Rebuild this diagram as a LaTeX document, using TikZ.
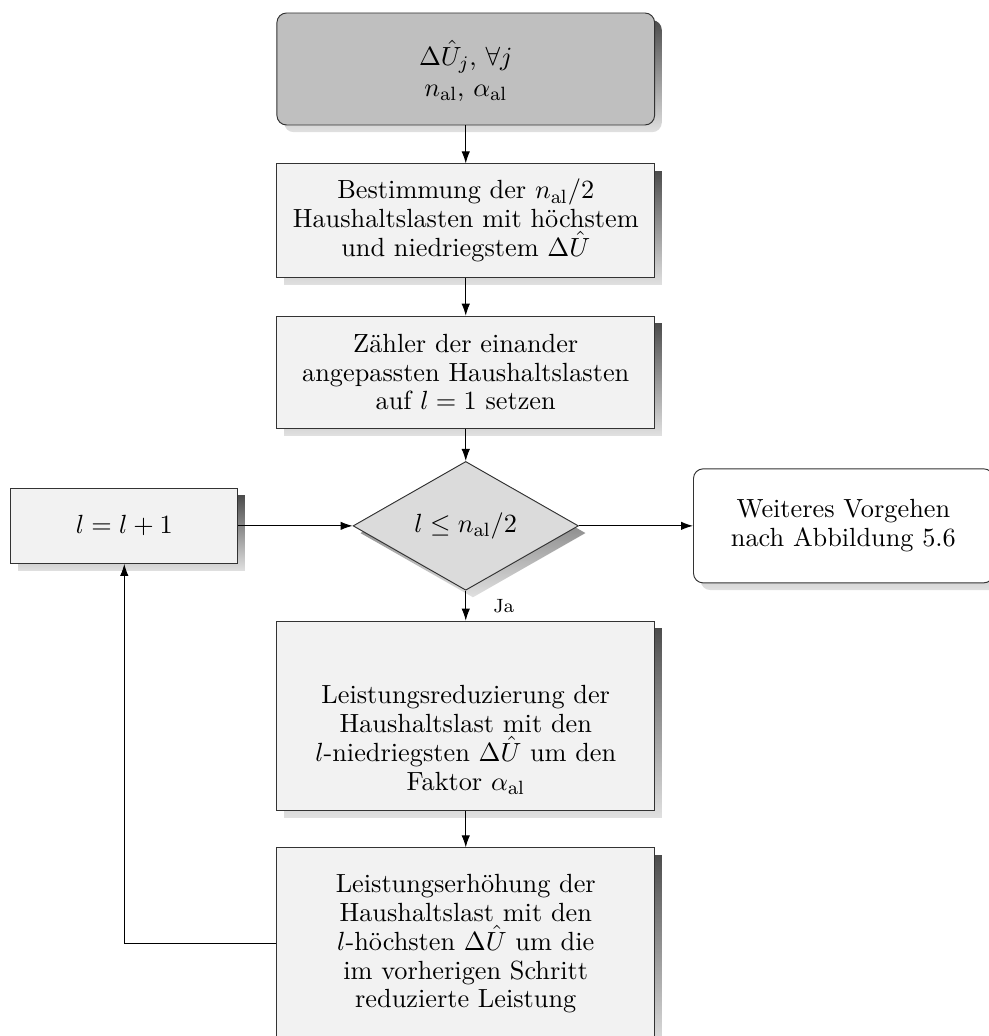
\documentclass[tikz,border=0pt]{standalone}
\usepackage{amsmath}
\usepackage{amssymb}
\usetikzlibrary{shapes.geometric,shadows,arrows.meta}

\tikzset{
	schatten/.style={general shadow={shadow xshift=3pt, shadow yshift=-3pt, top color=black!70, bottom color=black!12}},
	kasten/.style={draw=black!80, fill=black!5, schatten, minimum width=5.53cm, text width=5.2cm, align=flush center, inner sep=2pt, font=\fontsize{10.95}{12}\selectfont},
	raute/.style={diamond, draw=black!80, fill=black!14, schatten, minimum width=3.3cm, minimum height=1.66cm, inner sep=0pt, font=\fontsize{10.95}{12}\selectfont},
	pfeil/.style={-{Latex[length=5pt,width=3.5pt]}, draw=black}
}

\begin{document}
\begin{tikzpicture}
		\useasboundingbox (0,0) rectangle (14.48,-15.17);
		\node[kasten, rounded corners=4pt, fill=black!25, minimum height=1.64cm] (start) at (6.82,-1.01) {\rule{0pt}{12pt}$\Delta\hat{U}_j$, $\forall j$\\[1pt] $n_{\mathrm{al}}$, $\alpha_{\mathrm{al}}$};
		\node[kasten, minimum height=1.66cm] (bestimmung) at (6.82,-3.23) {Bestimmung der $n_{\mathrm{al}}/2$\\ Haushaltslasten mit höchstem\\ und niedriegstem $\Delta\hat{U}$};
		\node[kasten, minimum height=1.64cm] (zaehler) at (6.82,-5.45) {Zähler der einander\\ angepassten Haushaltslasten\\ auf $l = 1$ setzen};
		\node[raute] (abfrage) at (6.82,-7.70) {$l \leq n_{\mathrm{al}}/2$};
		\node[kasten, minimum width=3.32cm, text width=3cm, minimum height=1.10cm] (inkrement) at (1.82,-7.70) {$l = l + 1$};
		\node[kasten, rounded corners=4pt, fill=white, minimum width=4.39cm, text width=4.1cm, minimum height=1.67cm] (weiter) at (12.35,-7.70) {Weiteres Vorgehen\\ nach Abbildung 5.6};
		\node[kasten, minimum height=2.77cm] (reduzierung) at (6.82,-10.48) {\rule{0pt}{28pt}Leistungsreduzierung der\\ Haushaltslast mit den\\ $l$-niedriegsten $\Delta\hat{U}$ um den\\ Faktor $\alpha_{\mathrm{al}}$};
		\node[kasten, minimum height=2.81cm] (erhoehung) at (6.82,-13.82) {Leistungserhöhung der\\ Haushaltslast mit den\\ $l$-höchsten $\Delta\hat{U}$ um die\\ im vorherigen Schritt\\ reduzierte Leistung};
		\draw[pfeil] (start) -- (bestimmung);
		\draw[pfeil] (bestimmung) -- (zaehler);
		\draw[pfeil] (zaehler) -- (abfrage);
		\draw[pfeil] (abfrage) -- node[right=8pt, font=\footnotesize] (ja) {Ja} (reduzierung);
		\draw[pfeil] (reduzierung) -- (erhoehung);
		\draw[pfeil] (abfrage) -- (weiter);
		\draw[pfeil] (inkrement) -- (abfrage);
		\draw[pfeil] (erhoehung.west) -| (inkrement.south);
	\end{tikzpicture}
\end{document}
